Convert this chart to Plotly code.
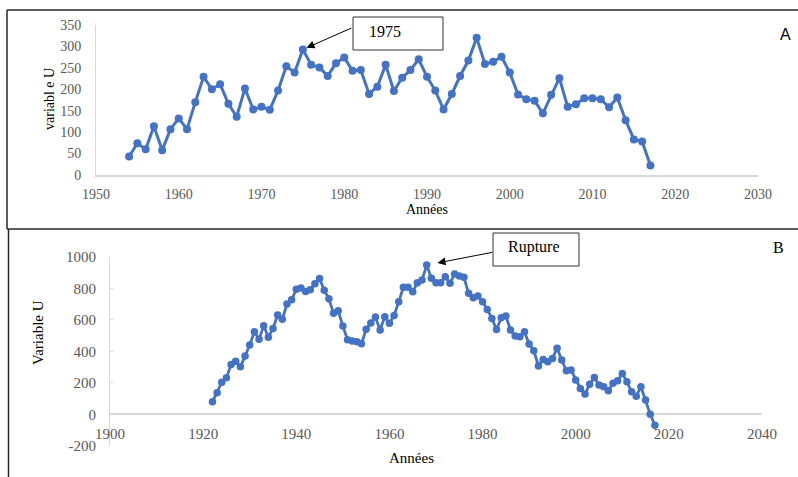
import plotly.graph_objects as go

W, H = 798, 477

# Panel A: annual series, 1954-2017
years_a = list(range(1954, 2018))
values_a = [43, 74, 60, 114, 58, 107, 132, 107, 170, 229,
            200, 212, 166, 136, 202, 153, 159, 152, 197, 254,
            239, 293, 257, 251, 231, 261, 274, 243, 245, 189,
            206, 257, 196, 227, 245, 270, 229, 197, 153, 189,
            231, 267, 320, 259, 264, 276, 239, 188, 177, 173,
            144, 187, 226, 159, 165, 179, 179, 177, 158, 181,
            128, 83, 78, 22]

# Panel B: cumulative variable, 1922-2017
years_b = list(range(1922, 2018))
values_b = [80, 137, 204, 232, 316, 337, 302, 370, 440, 524,
            476, 563, 490, 545, 630, 603, 700, 727, 793, 802,
            780, 791, 829, 862, 787, 733, 641, 657, 560, 474,
            466, 461, 448, 540, 579, 617, 536, 619, 578, 627,
            715, 806, 806, 778, 835, 852, 947, 863, 835, 835,
            873, 831, 890, 878, 869, 768, 740, 751, 715, 666,
            609, 539, 613, 624, 535, 497, 493, 524, 446, 404,
            307, 349, 334, 355, 419, 345, 277, 281, 218, 165,
            129, 192, 235, 186, 176, 150, 197, 214, 260, 207,
            144, 116, 176, 91, 2, -68]

xticks_a = list(range(1950, 2031, 10))
yticks_a = list(range(0, 351, 50))
xticks_b = list(range(1900, 2041, 20))
yticks_b = list(range(-200, 1001, 200))
# plain hyphen for negative tick labels
yticktext_b = [str(v) for v in yticks_b]

BLUE = "#4472C4"
TICK_FONT_A = dict(family="Liberation Serif", size=14, color="#595959")
TICK_FONT_B = dict(family="Liberation Serif", size=15, color="#595959")
AXIS_GRAY = "#d9d9d9"


def px(x):
    return x / W


def py(y):
    return 1 - y / H


fig = go.Figure()

fig.add_trace(go.Scatter(
    x=years_a, y=values_a, mode="lines+markers", xaxis="x", yaxis="y",
    line=dict(color=BLUE, width=3), marker=dict(color=BLUE, size=8),
    showlegend=False, hoverinfo="x+y"))

fig.add_trace(go.Scatter(
    x=years_b, y=values_b, mode="lines+markers", xaxis="x2", yaxis="y2",
    line=dict(color=BLUE, width=2.8), marker=dict(color=BLUE, size=7.5),
    showlegend=False, hoverinfo="x+y"))

ydom_a = [py(175), py(25)]
ydom_b = [py(446), py(256.7)]
yrange_b = [-200, 1000]
# horizontal axis of panel B crosses the vertical one at zero
x2_pos = ydom_b[0] + (0 - yrange_b[0]) / (yrange_b[1] - yrange_b[0]) * (ydom_b[1] - ydom_b[0])

common = dict(showgrid=False, zeroline=False, showline=True, linecolor=AXIS_GRAY,
              automargin=False, layer="below traces")

fig.update_layout(
    width=W, height=H, autosize=False,
    margin=dict(l=0, r=0, t=0, b=0, autoexpand=False),
    paper_bgcolor="white", plot_bgcolor="white",
    xaxis=dict(domain=[px(96), px(758)], range=[1950, 2030], anchor="y",
               tickvals=xticks_a, ticks="", linewidth=1.5,
               tickfont=TICK_FONT_A, ticklabelstandoff=5, **common),
    yaxis=dict(domain=ydom_a, range=[0, 350], anchor="x",
               tickvals=yticks_a, ticks="", linewidth=1,
               tickfont=TICK_FONT_A, ticklabelstandoff=11, **common),
    xaxis2=dict(domain=[px(110), px(762)], range=[1900, 2040], anchor="free",
                position=x2_pos, tickvals=xticks_b, ticks="", linewidth=1.5,
                tickfont=TICK_FONT_B, ticklabelstandoff=6, **common),
    yaxis2=dict(domain=ydom_b, range=yrange_b, anchor="x2",
                tickvals=yticks_b, ticktext=yticktext_b,
                ticks="inside", ticklen=3, tickcolor=AXIS_GRAY,
                linewidth=1, tickfont=TICK_FONT_B, ticklabelstandoff=10, **common),
)

BORDER = "#262626"
shapes = [
    # frame of panel A
    dict(type="line", xref="paper", yref="paper", x0=px(7), x1=1.0, y0=py(10), y1=py(10),
         line=dict(color=BORDER, width=1.5)),
    dict(type="line", xref="paper", yref="paper", x0=px(7), x1=px(7), y0=py(10), y1=py(229),
         line=dict(color=BORDER, width=1.5)),
    dict(type="line", xref="paper", yref="paper", x0=px(7), x1=1.0, y0=py(229), y1=py(229),
         line=dict(color=BORDER, width=1.5)),
    # left edge of panel B
    dict(type="line", xref="paper", yref="paper", x0=px(8.5), x1=px(8.5), y0=py(229), y1=0,
         line=dict(color=BORDER, width=1.5)),
    # callout boxes
    dict(type="rect", xref="paper", yref="paper", x0=px(353), x1=px(443), y0=py(50), y1=py(17),
         line=dict(color="#333333", width=1), fillcolor="white"),
    dict(type="rect", xref="paper", yref="paper", x0=px(493), x1=px(579), y0=py(266), y1=py(233),
         line=dict(color="#333333", width=1), fillcolor="white"),
]
fig.update_layout(shapes=shapes)

SERIF = "Liberation Serif"
i75 = years_a.index(1975)
i68 = years_b.index(1968)


def label(text, x, y, family=SERIF, size=14, angle=0, xanchor="center"):
    return dict(text=text, xref="paper", yref="paper", x=px(x), y=py(y),
                xanchor=xanchor, yanchor="middle", textangle=angle,
                showarrow=False, font=dict(family=family, size=size, color="black"))


annotations = [
    # axis titles
    label("variabl e U", 50, 99, angle=-90),
    label("Années", 427, 209),
    label("Variable U", 38, 333, angle=-90, size=15),
    label("Années", 411, 458, size=15),
    # panel letters
    label("A", 785, 34, family="Liberation Sans", size=16),
    label("B", 778, 248, size=16),
    # callout texts
    label("1975", 367, 31, size=16, xanchor="left"),
    label("Rupture", 506, 247, size=16, xanchor="left"),
    # arrows towards the marked points
    dict(text="", xref="x", yref="y", x=years_a[i75], y=values_a[i75],
         ax=50, ay=-22, axref="pixel", ayref="pixel", showarrow=True,
         arrowhead=2, arrowsize=1.6, arrowwidth=1, arrowcolor="black", standoff=4),
    dict(text="", xref="x2", yref="y2", x=years_b[i68], y=values_b[i68],
         ax=67, ay=-13, axref="pixel", ayref="pixel", showarrow=True,
         arrowhead=2, arrowsize=1.6, arrowwidth=1, arrowcolor="black", standoff=11),
]
fig.update_layout(annotations=annotations)

fig.write_html("out.html")
